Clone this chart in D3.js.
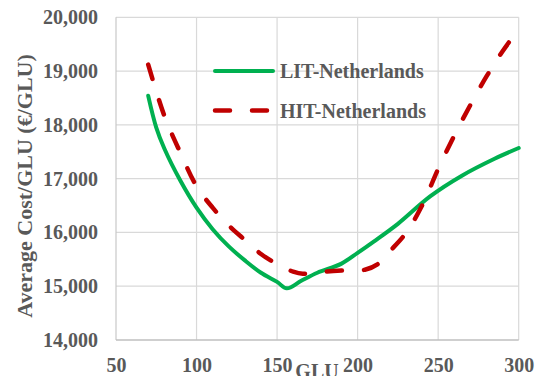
<!DOCTYPE html>
<html>
<head>
<meta charset="utf-8">
<script src="https://cdn.jsdelivr.net/npm/d3@7/dist/d3.min.js"></script>
<style>
  html, body { margin: 0; padding: 0; background: #fff; }
  svg { display: block; }
  text { font-family: "Liberation Serif", "Times New Roman", serif; font-weight: bold; fill: #595959; }
</style>
</head>
<body>
<svg id="chart" width="542" height="376"></svg>
<script>
// Average cost per GLU versus GLU, two scenarios
const xTicks = [50, 100, 150, 200, 250, 300];
const yTicks = [14000, 15000, 16000, 17000, 18000, 19000, 20000];

const litGlu  = [70, 75, 80, 90, 100, 110, 120, 130, 140, 150, 156, 165, 175, 190, 200, 210, 225, 245, 265, 285, 300];
const litCost = [18540, 17950, 17560, 16960, 16460, 16060, 15740, 15480, 15250, 15080, 14960, 15100, 15250, 15420, 15620, 15830, 16160, 16670, 17060, 17370, 17570];

const hitGlu  = [70, 80, 90, 100, 110, 120, 130, 140, 150, 160, 166, 175, 190, 205, 212, 220, 230, 240, 250, 260, 270, 280, 290, 300];
const hitCost = [19120, 18170, 17480, 16860, 16460, 16130, 15860, 15600, 15410, 15270, 15230, 15260, 15290, 15310, 15400, 15650, 15990, 16500, 17180, 17800, 18370, 18900, 19370, 19780];

const seriesNames = ["LIT-Netherlands", "HIT-Netherlands"];

const svg = d3.select("#chart");
const plotLeft = 116, plotRight = 518.7, plotTop = 17.3, plotBottom = 340;

const x = d3.scaleLinear().domain([50, 300]).range([plotLeft, plotRight]);
const y = d3.scaleLinear().domain([14000, 20000]).range([plotBottom, plotTop]);

// gridlines
const grid = svg.append("g");
grid.selectAll("line.h").data(yTicks.filter(v => v > 14000)).join("line")
  .attr("x1", plotLeft).attr("x2", plotRight)
  .attr("y1", d => y(d)).attr("y2", d => y(d))
  .attr("stroke", "#d9d9d9").attr("stroke-width", 1.2);
grid.selectAll("line.v").data(xTicks).join("line")
  .attr("y1", plotTop).attr("y2", plotBottom)
  .attr("x1", d => x(d)).attr("x2", d => x(d))
  .attr("stroke", d => d === 50 ? "#c8c8c8" : "#d9d9d9").attr("stroke-width", 1.2);

// bottom axis line
svg.append("line")
  .attr("x1", plotLeft).attr("x2", plotRight)
  .attr("y1", plotBottom).attr("y2", plotBottom)
  .attr("stroke", "#bfbfbf").attr("stroke-width", 1.6);

// y axis labels
const yAxis = d3.axisLeft(y).tickValues(yTicks).tickSize(0).tickPadding(18)
  .tickFormat(d3.format(","));
const gy = svg.append("g").attr("transform", `translate(${plotLeft},0)`).call(yAxis);
gy.select(".domain").remove();
gy.selectAll("text").attr("font-size", 20).attr("fill", "#595959")
  .style("font-family", '"Liberation Serif", serif').style("font-weight", "bold");

// x axis labels
const xAxis = d3.axisBottom(x).tickValues(xTicks).tickSize(0).tickPadding(18)
  .tickFormat(d3.format("d"));
const gx = svg.append("g").attr("transform", `translate(0,${plotBottom})`).call(xAxis);
gx.select(".domain").remove();
gx.selectAll("text").attr("font-size", 20).attr("fill", "#595959")
  .style("font-family", '"Liberation Serif", serif').style("font-weight", "bold");

// axis titles
svg.append("text")
  .attr("transform", "translate(32,186) rotate(-90)")
  .attr("text-anchor", "middle")
  .attr("font-size", 22)
  .text("Average Cost/GLU (€/GLU)");

svg.append("text")
  .attr("x", 317).attr("y", 378)
  .attr("text-anchor", "middle")
  .attr("font-size", 20)
  .text("GLU");

// series lines
const line = d3.line().x(d => x(d[0])).y(d => y(d[1])).curve(d3.curveCatmullRom.alpha(0.5));

svg.append("path")
  .datum(litGlu.map((g, i) => [g, litCost[i]]))
  .attr("d", line)
  .attr("fill", "none").attr("stroke", "#00b050").attr("stroke-width", 4)
  .attr("stroke-linejoin", "round").attr("stroke-linecap", "round");

svg.append("path")
  .datum(hitGlu.map((g, i) => [g, hitCost[i]]))
  .attr("d", line)
  .attr("fill", "none").attr("stroke", "#c00000").attr("stroke-width", 4.5)
  .attr("stroke-dasharray", "15,22")
  .attr("stroke-linejoin", "round").attr("stroke-linecap", "round");

// legend
const legend = svg.append("g");
const legendRows = [
  { name: seriesNames[0], color: "#00b050", dash: null, width: 4, cy: 71 },
  { name: seriesNames[1], color: "#c00000", dash: "15,22", width: 4.5, cy: 110.5 }
];
legendRows.forEach(r => {
  legend.append("line")
    .attr("x1", 215).attr("x2", 273)
    .attr("y1", r.cy).attr("y2", r.cy)
    .attr("stroke", r.color).attr("stroke-width", r.width)
    .attr("stroke-linecap", "round")
    .attr("stroke-dasharray", r.dash);
  legend.append("text")
    .attr("x", 280).attr("y", r.cy)
    .attr("dy", "0.35em")
    .attr("font-size", 20)
    .text(r.name);
});
</script>
</body>
</html>
